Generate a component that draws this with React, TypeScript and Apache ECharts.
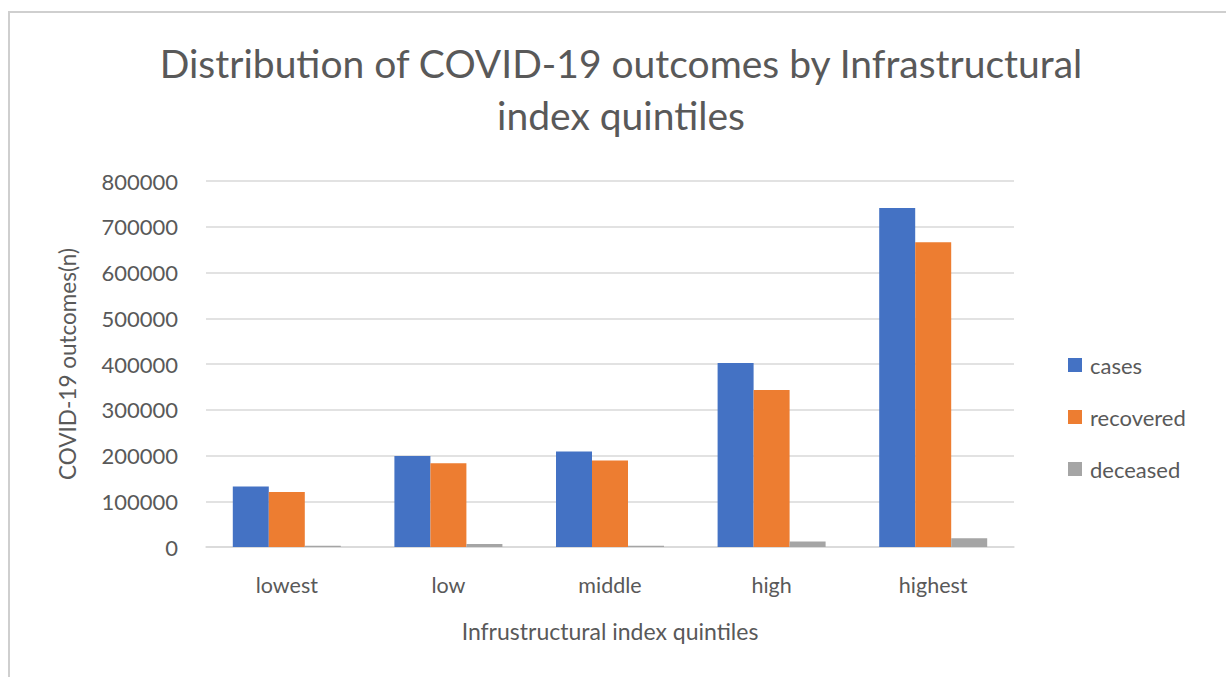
import React, { useEffect, useRef } from "react";
import * as echarts from "echarts";

const categories = ["lowest", "low", "middle", "high", "highest"];
const cases = [132000, 199000, 209000, 402000, 741000];
const recovered = [120000, 183000, 189000, 343000, 666000];
const deceased = [3000, 6500, 3000, 12000, 19000];
const yTicks = { min: 0, max: 800000, interval: 100000 };

const FONT = "Lato, 'Open Sans', sans-serif";
const TXT = "#595959";

export default function App() {
  const ref = useRef<HTMLDivElement>(null);
  useEffect(() => {
    if (!ref.current) return;
    const chart = echarts.init(ref.current, undefined, { renderer: "svg" });
    chart.setOption({
      animation: false,
      backgroundColor: "#ffffff",
      textStyle: { fontFamily: FONT },
      title: {
        text: "Distribution of COVID-19 outcomes by Infrastructural\nindex quintiles",
        left: 616,
        top: 32,
        textAlign: "center",
        textStyle: { fontFamily: FONT, fontSize: 39, fontWeight: "normal", color: TXT, lineHeight: 52 },
      },
      graphic: [
        {
          type: "rect",
          shape: { x: 9, y: 12, width: 1400, height: 800 },
          style: { fill: "none", stroke: "#cfcfcf", lineWidth: 2 },
          silent: true,
          z: -1,
        },
      ],
      legend: {
        orient: "vertical",
        left: 1063,
        top: 349,
        itemWidth: 14,
        itemHeight: 14,
        itemGap: 30,
        icon: "rect",
        textStyle: { fontFamily: FONT, fontSize: 22, color: TXT, padding: [0, 0, 0, 3] },
        data: ["cases", "recovered", "deceased"],
      },
      grid: { left: 206, right: 212, top: 181, bottom: 130, containLabel: false },
      xAxis: {
        type: "category",
        data: categories,
        name: "Infrustructural index quintiles",
        nameLocation: "middle",
        nameGap: 72,
        nameTextStyle: { fontFamily: FONT, fontSize: 23, color: TXT },
        axisLine: { show: true, lineStyle: { color: "#d9d9d9", width: 1.5 } },
        axisTick: { show: false },
        axisLabel: { fontFamily: FONT, fontSize: 21.5, color: TXT, margin: 27 },
      },
      yAxis: {
        type: "value",
        min: yTicks.min,
        max: yTicks.max,
        interval: yTicks.interval,
        name: "COVID-19 outcomes(n)",
        nameLocation: "middle",
        nameGap: 127,
        nameTextStyle: { fontFamily: FONT, fontSize: 22.5, color: TXT },
        axisLine: { show: false },
        axisTick: { show: false },
        axisLabel: { fontFamily: FONT, fontSize: 22, color: TXT, margin: 28, formatter: (v: number) => String(v) },
        splitLine: { lineStyle: { color: "#d9d9d9", width: 1.5 } },
      },
      series: [
        { name: "cases", type: "bar", data: cases, barWidth: 36, barGap: "0%", itemStyle: { color: "#4472c4" } },
        { name: "recovered", type: "bar", data: recovered, barWidth: 36, barGap: "0%", itemStyle: { color: "#ed7d31" } },
        { name: "deceased", type: "bar", data: deceased, barWidth: 36, barGap: "0%", itemStyle: { color: "#a5a5a5" } },
      ],
    });
    return () => chart.dispose();
  }, []);
  return (
    <div
      ref={ref}
      style={{ position: "fixed", left: 0, top: 0, width: 1226, height: 677 }}
    />
  );
}
